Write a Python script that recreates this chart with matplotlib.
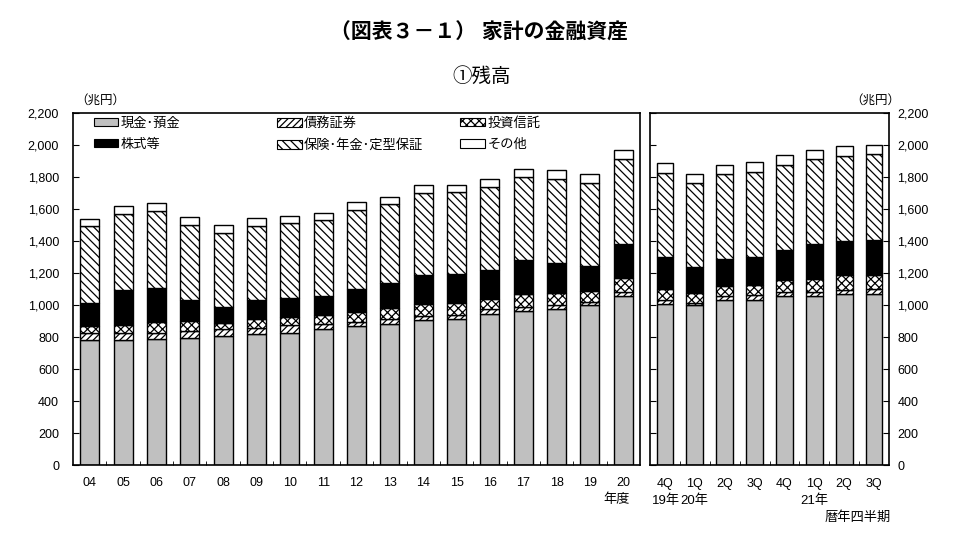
import matplotlib
matplotlib.use("Agg")
import matplotlib.pyplot as plt
from matplotlib.patches import Patch
from matplotlib.ticker import FuncFormatter, MultipleLocator

plt.rcParams['font.family'] = ['Liberation Sans', 'Noto Sans CJK JP']
plt.rcParams['hatch.linewidth'] = 0.9

# ---- data (兆円) ----
fy_labels = ['04', '05', '06', '07', '08', '09', '10', '11', '12',
             '13', '14', '15', '16', '17', '18', '19', '20']
fy_cash = [784, 784, 786, 794, 805, 817, 828, 847, 867,
           884, 905, 915, 942, 961, 978, 998, 1055]
fy_bond = [38, 38, 40, 42, 42, 42, 44, 34, 27, 27, 25, 25, 30, 27, 25, 23, 26]
fy_fund = [45, 56, 68, 64, 43, 56, 53, 56, 65, 73, 79, 73, 66, 83, 72, 65, 88]
fy_equity = [146, 214, 212, 130, 98, 115, 119, 118, 144,
             154, 181, 179, 183, 208, 190, 156, 210]
fy_insur = [478, 479, 481, 472, 464, 466, 470, 476, 490,
            495, 509, 514, 514, 518, 524, 520, 532]
fy_other = [48, 49, 50, 47, 50, 45, 44, 46, 48, 44, 50, 46, 54, 52, 56, 56, 55]

q_labels = ['4Q', '1Q', '2Q', '3Q', '4Q', '1Q', '2Q', '3Q']
q_cash = [1005, 997, 1030, 1034, 1055, 1057, 1071, 1071]
q_bond = [25, 18, 26, 27, 26, 24, 25, 27]
q_fund = [73, 60, 63, 64, 78, 82, 90, 90]
q_equity = [197, 162, 171, 175, 187, 216, 214, 220]
q_insur = [526, 523, 526, 533, 532, 535, 534, 537]
q_other = [63, 58, 58, 58, 58, 54, 59, 56]

series_names = ['現金･預金', '債務証券', '投資信託', '株式等', '保険･年金･定型保証', 'その他']
styles = [
    dict(facecolor='#c0c0c0', hatch=None),
    dict(facecolor='white', hatch='/////'),
    dict(facecolor='white', hatch='xxxx'),
    dict(facecolor='black', hatch=None),
    dict(facecolor='white', hatch='\\\\\\\\'),
    dict(facecolor='white', hatch=None),
]

W, H = 960, 552
fig = plt.figure(figsize=(W / 100, H / 100), dpi=100)


def box(x0, y0, x1, y1):
    # pixel box (top-left origin) -> figure fraction
    return [x0 / W, 1 - y1 / H, (x1 - x0) / W, (y1 - y0) / H]


ax1 = fig.add_axes(box(73, 113, 640, 465))
ax2 = fig.add_axes(box(650, 113, 889, 465))


def draw(ax, labels, stacks, width):
    x = range(len(labels))
    bottom = [0] * len(labels)
    for vals, st in zip(stacks, styles):
        ax.bar(x, vals, width, bottom=bottom, facecolor=st['facecolor'],
               hatch=st['hatch'], edgecolor='black', linewidth=1.0)
        bottom = [b + v for b, v in zip(bottom, vals)]
    ax.set_xlim(-0.5, len(labels) - 0.5)
    ax.set_ylim(0, 2200)
    ax.set_xticks(list(x))
    ax.set_xticklabels(labels, fontsize=9)
    ax.set_xticks([i + 0.5 for i in range(len(labels) - 1)], minor=True)
    ax.tick_params(axis='x', which='major', length=0, pad=9)
    ax.tick_params(axis='x', which='minor', direction='in', length=3)
    ax.yaxis.set_major_locator(MultipleLocator(200))
    ax.yaxis.set_major_formatter(FuncFormatter(lambda v, p: f'{int(v):,}'))
    for s in ax.spines.values():
        s.set_linewidth(1.2)


draw(ax1, fy_labels, [fy_cash, fy_bond, fy_fund, fy_equity, fy_insur, fy_other], 0.57)
draw(ax2, q_labels, [q_cash, q_bond, q_fund, q_equity, q_insur, q_other], 0.56)

ax1.tick_params(axis='y', direction='in', length=4, labelsize=9, pad=10)
ax2.tick_params(axis='y', direction='in', length=4, labelsize=9, pad=6,
                left=True, right=True, labelleft=False, labelright=True)

# legend: three blocks of two entries
handles = [Patch(facecolor=st['facecolor'], hatch=st['hatch'], edgecolor='black',
                 linewidth=0.8) for st in styles]
cols = [(0.037, [0, 3]), (0.36, [1, 4]), (0.683, [2, 5])]
for n, (xa, idx) in enumerate(cols):
    lg = ax1.legend([handles[i] for i in idx], [series_names[i] for i in idx],
                    loc='upper left', bbox_to_anchor=(xa, 0.988), frameon=False,
                    fontsize=9.5, handlelength=1.85, handleheight=0.6,
                    handletextpad=0.2, labelspacing=0.7, borderpad=0,
                    borderaxespad=0)
    if n < len(cols) - 1:
        ax1.add_artist(lg)

# titles and notes
fig.text(479 / W, 1 - 33 / H, '（図表３－１） 家計の金融資産', ha='center', va='center',
         fontsize=15, fontweight='bold')
fig.text(482 / W, 1 - 76 / H, '①残高', ha='center', va='center', fontsize=14)
fig.text(75 / W, 1 - 101 / H, '（兆円）', ha='left', va='center', fontsize=9)
fig.text(850 / W, 1 - 101 / H, '（兆円）', ha='left', va='center', fontsize=9)
fig.text(617 / W, 1 - 500 / H, '年度', ha='center', va='center', fontsize=9.5)
fig.text(666 / W, 1 - 501 / H, '19年', ha='center', va='center', fontsize=9.5)
fig.text(694 / W, 1 - 501 / H, '20年', ha='center', va='center', fontsize=9.5)
fig.text(814 / W, 1 - 501 / H, '21年', ha='center', va='center', fontsize=9.5)
fig.text(891 / W, 1 - 518 / H, '暦年四半期', ha='right', va='center', fontsize=9.5)

fig.savefig('out.png', dpi=100)
